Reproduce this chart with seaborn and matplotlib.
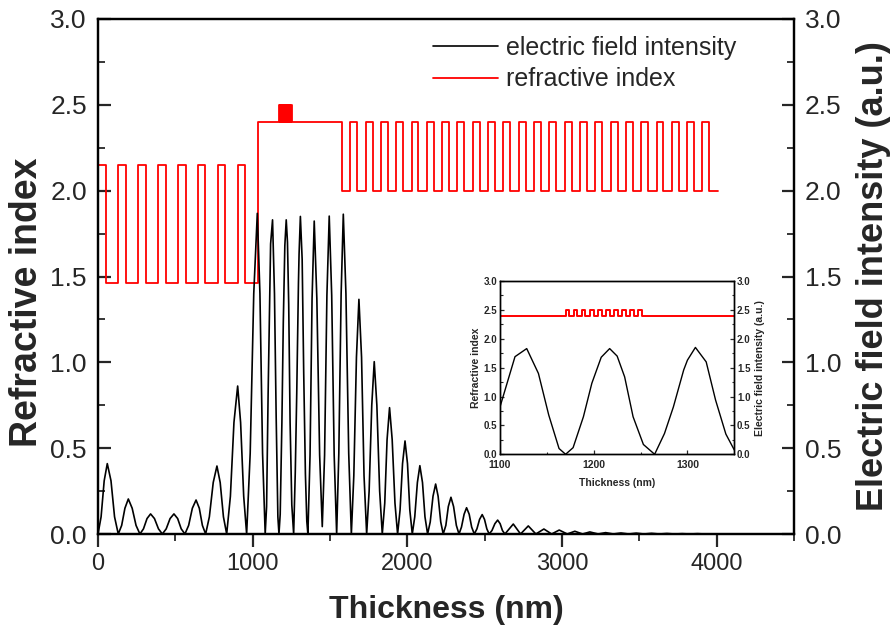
import matplotlib
matplotlib.use("Agg")
import matplotlib.pyplot as plt
import seaborn as sns
import pandas as pd

# ---------------- data ----------------
# layer stack: (refractive index, thickness in nm)
left_dbr_pair = [(2.15, 50.0), (1.46, 79.0)]
left_dbr_repeats = 8
cavity_front = [(2.40, 138.0)]
grating_high = (2.50, 4.0)
grating_low = (2.40, 4.6)
grating_teeth = 10
cavity_back = [(2.40, 325.6)]
right_dbr_pair = [(2.00, 54.0), (2.40, 45.0)]
right_dbr_repeats = 24
right_dbr_last = [(2.00, 54.0)]

# electric field intensity (thickness nm, intensity a.u.)
field_x = [0, 20, 40, 60, 84, 107, 131,
           153, 174, 196, 221, 246, 271,
           294, 317, 340, 365, 391, 416,
           441, 466, 491, 515, 538, 562,
           586, 610, 634, 655, 675, 696,
           720, 745, 769, 790, 811, 832,
           856, 879, 903, 922, 942, 961,
           984, 1007, 1030, 1047, 1064, 1081,
           1090, 1100, 1116, 1128.5, 1141, 1152, 1163, 1170,
           1178, 1189, 1198, 1208, 1217, 1225, 1233, 1242, 1253, 1265,
           1275.5, 1285, 1296, 1300, 1308.5, 1320, 1330, 1341, 1350, 1357,
           1371, 1384, 1398, 1415, 1433, 1450,
           1465, 1480, 1495, 1511, 1527, 1543,
           1557, 1572, 1586, 1603, 1621, 1638,
           1654, 1671, 1687, 1704, 1720, 1737,
           1753, 1770, 1786, 1803, 1821, 1838,
           1854, 1869, 1885, 1902, 1920, 1937,
           1953, 1969, 1985, 2001, 2016, 2032,
           2048, 2065, 2081, 2098, 2114, 2131,
           2148, 2166, 2183, 2199, 2216, 2232,
           2249, 2265, 2282, 2299, 2317, 2334,
           2350, 2367, 2383, 2400, 2416, 2433,
           2450, 2467, 2484, 2499, 2514, 2529,
           2547, 2566, 2584, 2600, 2615, 2631,
           2685, 2732, 2782, 2831, 2883, 2933, 2982, 3034,
           3083, 3133, 3180, 3234, 3282, 3332, 3381, 3431,
           3480, 3530, 3579, 3629, 3678, 3728, 3777, 3827,
           3876, 3926, 3966, 4007]
field_y = [0, 0.10, 0.31, 0.41, 0.31, 0.10, 0,
           0.05, 0.15, 0.204, 0.15, 0.05, 0,
           0.03, 0.09, 0.117, 0.09, 0.03, 0,
           0.03, 0.09, 0.117, 0.09, 0.03, 0,
           0.05, 0.15, 0.198, 0.15, 0.05, 0,
           0.10, 0.30, 0.396, 0.30, 0.10, 0,
           0.22, 0.65, 0.862, 0.65, 0.22, 0,
           0.47, 1.40, 1.868, 1.40, 0.47, 0,
           0.16, 0.82, 1.69, 1.83, 1.40, 0.68, 0.10, 0,
           0.115, 0.65, 1.23, 1.68, 1.83, 1.70, 1.34, 0.65, 0.17, 0,
           0.36, 0.82, 1.46, 1.63, 1.85, 1.60, 0.94, 0.35, 0.075, 0,
           0.46, 1.37, 1.823, 1.37, 0.46, 0.043,
           0.46, 1.39, 1.852, 1.39, 0.46, 0,
           0.47, 1.40, 1.863, 1.40, 0.47, 0,
           0.34, 1.03, 1.367, 1.03, 0.34, 0,
           0.25, 0.75, 1.004, 0.75, 0.25, 0,
           0.18, 0.55, 0.736, 0.55, 0.18, 0,
           0.14, 0.41, 0.542, 0.41, 0.14, 0,
           0.10, 0.30, 0.398, 0.30, 0.10, 0,
           0.07, 0.22, 0.291, 0.22, 0.07, 0,
           0.05, 0.16, 0.214, 0.16, 0.05, 0,
           0.04, 0.115, 0.153, 0.115, 0.04, 0,
           0.03, 0.085, 0.113, 0.085, 0.03, 0,
           0.02, 0.06, 0.081, 0.06, 0.02, 0,
           0.058, 0, 0.047, 0, 0.029, 0, 0.023, 0,
           0.016, 0, 0.012, 0, 0.008, 0, 0.006, 0,
           0.005, 0, 0.004, 0, 0.003, 0, 0.002, 0,
           0.002, 0, 0.001, 0]

main_xticks = [0, 1000, 2000, 3000, 4000]
main_yticks = [0.0, 0.5, 1.0, 1.5, 2.0, 2.5, 3.0]
inset_xticks = [1100, 1200, 1300]

# ---------------- build stack ----------------
layers = left_dbr_pair * left_dbr_repeats + cavity_front
for i in range(grating_teeth):
    layers.append(grating_high)
    if i < grating_teeth - 1:
        layers.append(grating_low)
layers += cavity_back + right_dbr_pair * right_dbr_repeats + right_dbr_last

idx_x, idx_y = [], []
pos = 0.0
for n, d in layers:
    idx_x += [pos, pos + d]
    idx_y += [n, n]
    pos += d
index_df = pd.DataFrame({"x": idx_x, "n": idx_y})
field_df = pd.DataFrame({"x": field_x, "E": field_y})

# ---------------- style ----------------
sns.set_theme(style="white")
plt.rcParams["font.family"] = ["Liberation Sans", "DejaVu Sans"]
plt.rcParams["axes.linewidth"] = 1.6

W, H = 893, 637
fig = plt.figure(figsize=(W / 100, H / 100), dpi=100)
ax = fig.add_axes([98 / W, (H - 534) / H, (794 - 98) / W, (534 - 19) / H])
ax2 = ax.twinx()

RED = "#ff0000"
sns.lineplot(data=index_df, x="x", y="n", sort=False, estimator=None, ax=ax,
             color=RED, lw=1.3, label="refractive index", legend=False)
sns.lineplot(data=field_df, x="x", y="E", sort=False, estimator=None, ax=ax2,
             color="black", lw=1.2, label="electric field intensity", legend=False)

minor_y = [0.25, 0.75, 1.25, 1.75, 2.25, 2.75]
for a in (ax, ax2):
    a.set_xlim(0, 4500)
    a.set_ylim(0, 3.0)
    for s in a.spines.values():
        s.set_color("black")
        s.set_linewidth(1.6)
ax.set_xticks(main_xticks)
ax.set_xticks([500, 1500, 2500, 3500, 4500], minor=True)
ax.set_yticks(main_yticks)
ax.set_yticklabels([f"{v:.1f}" for v in main_yticks])
ax.set_yticks(minor_y, minor=True)
ax2.set_yticks(main_yticks)
ax2.set_yticklabels([f"{v:.1f}" for v in main_yticks])
ax2.set_yticks(minor_y, minor=True)

ax.tick_params(axis="x", which="major", direction="out", length=9, width=1.6,
               labelsize=17, pad=5, bottom=True)
ax.tick_params(axis="x", which="minor", direction="out", length=5, width=1.3, bottom=True)
ax.tick_params(axis="y", which="major", direction="in", length=9, width=1.6,
               labelsize=19, pad=8, left=True)
ax.tick_params(axis="y", which="minor", direction="in", length=5, width=1.3, left=True)
ax2.tick_params(axis="y", which="major", direction="in", length=9, width=1.6,
                labelsize=19, pad=8, right=True)
ax2.tick_params(axis="y", which="minor", direction="in", length=5, width=1.3, right=True)

ax.set_xlabel("Thickness (nm)", fontsize=23, fontweight="bold", labelpad=14)
ax.set_ylabel("Refractive index", fontsize=27, fontweight="bold")
ax.yaxis.set_label_coords((45 - 98) / 696, 0.45)
ax2.set_ylabel("Electric field intensity (a.u.)", fontsize=26, fontweight="bold",
               labelpad=10, rotation=90)

h1, l1 = ax2.get_legend_handles_labels()
h2, l2 = ax.get_legend_handles_labels()
fig.legend(h1 + h2, l1 + l2, loc="upper left", bbox_to_anchor=(433 / W, 1 - 36 / H),
           frameon=False, fontsize=18, handlelength=2.6, handletextpad=0.33,
           labelspacing=0.3, borderpad=0, borderaxespad=0)

# ---------------- inset ----------------
axi = fig.add_axes([500 / W, (H - 454.3) / H, 234.3 / W, 173.3 / H])
axi2 = axi.twinx()
sns.lineplot(data=index_df, x="x", y="n", sort=False, estimator=None, ax=axi,
             color=RED, lw=1.4, legend=False)
sns.lineplot(data=field_df, x="x", y="E", sort=False, estimator=None, ax=axi2,
             color="black", lw=1.0, legend=False)
for a in (axi, axi2):
    a.set_xlim(1100, 1350)
    a.set_ylim(0, 3.0)
    for s in a.spines.values():
        s.set_color("black")
        s.set_linewidth(1.0)
axi.set_xticks(inset_xticks)
axi.set_xticks([1150, 1250], minor=True)
axi.set_yticks(main_yticks)
axi.set_yticklabels([f"{v:.1f}" for v in main_yticks])
axi.set_yticks(minor_y, minor=True)
axi2.set_yticks(main_yticks)
axi2.set_yticklabels([f"{v:.1f}" for v in main_yticks])
axi2.set_yticks(minor_y, minor=True)
for a in (axi, axi2):
    a.tick_params(which="major", direction="in", length=3, width=0.9,
                  labelsize=7, pad=2)
    a.tick_params(which="minor", direction="in", length=1.8, width=0.8)
axi.tick_params(axis="x", which="both", bottom=True)
axi.tick_params(axis="x", which="major", labelsize=7.5, pad=4)
axi.tick_params(axis="y", which="both", left=True)
axi2.tick_params(axis="y", which="both", right=True)
for lab in axi.get_xticklabels() + axi.get_yticklabels() + axi2.get_yticklabels():
    lab.set_fontweight("bold")
axi.set_xlabel("Thickness (nm)", fontsize=7.5, fontweight="bold", labelpad=6)
axi.set_ylabel("Refractive index", fontsize=7.5, fontweight="bold", labelpad=2)
axi2.set_ylabel("Electric field intensity (a.u.)", fontsize=7.5, fontweight="bold",
                labelpad=3, rotation=90)

fig.savefig("out.png", dpi=100)
